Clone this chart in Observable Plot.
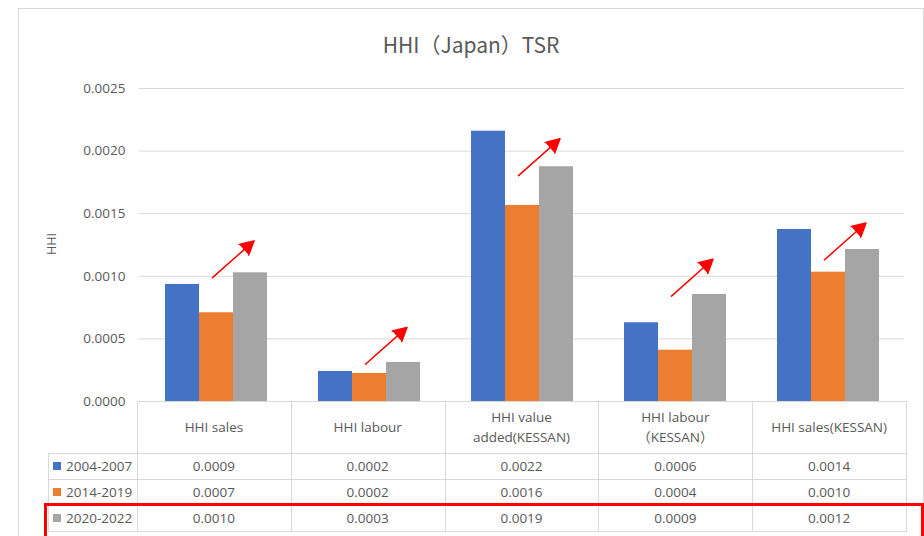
<!DOCTYPE html>
<html>
<head>
<meta charset="utf-8">
<script src="https://cdn.jsdelivr.net/npm/d3@7"></script>
<script src="https://cdn.jsdelivr.net/npm/@observablehq/plot@0.6"></script>
<style>
  html, body { margin: 0; padding: 0; background: #fff; }
  #root { position: relative; width: 924px; height: 536px; overflow: hidden;
    font-family: "Open Sans", "Noto Sans CJK JP", sans-serif; color: #595959; }
  #frame { position: absolute; left: 18px; top: 8px; width: 906px; height: 620px;
    border: 1px solid #d9d9d9; box-sizing: border-box; }
  #title { position: absolute; left: 19px; width: 904px; top: 34px; text-align: center;
    font-family: "Noto Sans CJK JP", sans-serif; font-size: 21px; line-height: 21px; color: #595959; z-index: 2; }
  #ylabel { position: absolute; left: 52px; top: 244px; transform: translate(-50%, -50%) rotate(-90deg);
    font-size: 12.5px; line-height: 14px; z-index: 2; white-space: nowrap; }
  #chart { position: absolute; left: 0; top: 70px; z-index: 1; }
  .hl { position: absolute; height: 1px; background: #d9d9d9; z-index: 3; }
  .vl { position: absolute; width: 1px; background: #d9d9d9; z-index: 3; }
  .cell { position: absolute; display: flex; align-items: center; justify-content: center;
    text-align: center; font-size: 13.5px; white-space: pre-line; z-index: 3; }
  .hdr { line-height: 20px; }
  .leg { position: absolute; display: flex; align-items: center; font-size: 13.5px; z-index: 3; }
  .sw { width: 8px; height: 8px; margin-left: 5px; margin-right: 5px; flex: none; }
  #redbox { position: absolute; left: 44px; top: 503px; width: 880px; height: 80px;
    border: 3px solid #ff0000; box-sizing: border-box; z-index: 5; }
</style>
</head>
<body>
<div id="root">
  <div id="frame"></div>
  <div id="title">HHI（Japan）TSR</div>
  <div id="ylabel">HHI</div>
  <div id="chart"></div>
  <div id="redbox"></div>
</div>
<script>
// ---- data ----
const categories = ["HHI sales", "HHI labour", "HHI value\nadded(KESSAN)", "HHI labour\n（KESSAN）", "HHI sales(KESSAN)"];
const periods = ["2004-2007", "2014-2019", "2020-2022"];
const colors = ["#4472C4", "#ED7D31", "#A5A5A5"];
const v2004 = [0.000935, 0.000240, 0.002159, 0.000629, 0.001374];
const v2014 = [0.000709, 0.000224, 0.001566, 0.000410, 0.001033];
const v2020 = [0.001028, 0.000312, 0.001875, 0.000855, 0.001214];
const yTicks = [0, 0.0005, 0.0010, 0.0015, 0.0020, 0.0025];
// red trend arrows (start and end heights, in HHI units)
const arrowFrom = [0.000989, 0.000298, 0.001804, 0.000842, 0.001132];
const arrowTo   = [0.001230, 0.000539, 0.002045, 0.001083, 0.001373];

const series = [v2004, v2014, v2020];
const rows = [];
categories.forEach((c, i) => periods.forEach((p, j) => rows.push({category: c, period: p, value: series[j][i]})));
const arrows = categories.map((c, i) => ({category: c, from: arrowFrom[i], to: arrowTo[i]}));

// ---- layout ----
const W = 924, ML = 137, MR = 18, MT = 18, MB = 10, H = 341;
const plotBottom = 70 + H - MB; // 401 in page coordinates

const chart = Plot.plot({
  width: W, height: H,
  marginLeft: ML, marginRight: MR, marginTop: MT, marginBottom: MB,
  style: {background: "transparent", fontFamily: "'Open Sans', sans-serif", fontSize: "13.5px", color: "#595959", overflow: "visible"},
  fx: {domain: categories, padding: 0, axis: null, label: null},
  x: {domain: periods, paddingInner: 0, paddingOuter: 0.75, axis: null, label: null},
  y: {domain: [0, 0.0025], ticks: 5, tickFormat: d3.format(".4f"), tickSize: 0, tickPadding: 14, label: null},
  color: {domain: periods, range: colors},
  marks: [
    Plot.ruleY(yTicks, {stroke: "#d9d9d9", strokeWidth: 1}),
    Plot.barY(rows, {fx: "category", x: "period", y: "value", fill: "period", inset: 0}),
    Plot.arrow(arrows, {
      fx: "category",
      x1: () => periods[1], x2: () => periods[2],
      y1: "from", y2: "to",
      dx: -4, insetEnd: -10,
      stroke: "#ff0000", fill: "#ff0000", strokeWidth: 1.5,
      headAngle: 56, headLength: 16
    })
  ]
});
document.getElementById("chart").appendChild(chart);

// ---- data table below the plot ----
const root = d3.select("#root");
const colW = (W - ML - MR) / 5;
const tableLeft = 48, hdrH = 52, rowH = 26;
const tTop = plotBottom;
const rowTops = [tTop + hdrH, tTop + hdrH + rowH, tTop + hdrH + 2 * rowH, tTop + hdrH + 3 * rowH];

// horizontal lines
root.append("div").attr("class", "hl").style("left", ML + "px").style("top", tTop + "px").style("width", (W - ML - MR + 1) + "px");
rowTops.forEach(t => root.append("div").attr("class", "hl")
  .style("left", tableLeft + "px").style("top", t + "px").style("width", (W - MR - tableLeft + 1) + "px"));
// vertical lines
root.append("div").attr("class", "vl").style("left", tableLeft + "px").style("top", rowTops[0] + "px").style("height", (3 * rowH + 1) + "px");
for (let i = 0; i <= 5; i++) {
  root.append("div").attr("class", "vl").style("left", Math.round(ML + i * colW) + "px")
    .style("top", tTop + "px").style("height", (hdrH + 3 * rowH + 1) + "px");
}
// header cells
categories.forEach((c, i) => {
  root.append("div").attr("class", "cell hdr")
    .style("left", (ML + i * colW) + "px").style("top", tTop + "px")
    .style("width", colW + "px").style("height", hdrH + "px")
    .text(c);
});
// value rows
periods.forEach((p, j) => {
  const leg = root.append("div").attr("class", "leg")
    .style("left", tableLeft + "px").style("top", rowTops[j] + "px")
    .style("width", (ML - tableLeft) + "px").style("height", rowH + "px");
  leg.append("div").attr("class", "sw").style("background", colors[j]);
  leg.append("span").text(p);
  categories.forEach((c, i) => {
    root.append("div").attr("class", "cell")
      .style("left", (ML + i * colW) + "px").style("top", rowTops[j] + "px")
      .style("width", colW + "px").style("height", rowH + "px")
      .text(series[j][i].toFixed(4));
  });
});
</script>
</body>
</html>
